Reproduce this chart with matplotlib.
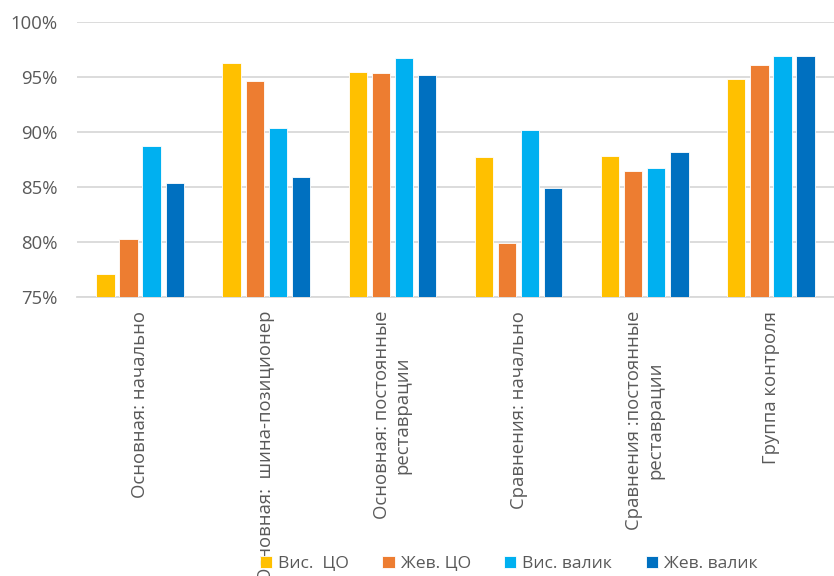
import numpy as np
import matplotlib.pyplot as plt
from matplotlib.ticker import PercentFormatter

# group labels (x axis)
groups = [
    'Основная: начально',
    'Основная:  шина-позиционер',
    'Основная: постоянные\nреставрации',
    'Сравнения: начально',
    'Сравнения :постоянные\nреставрации',
    'Группа контроля',
]
series_names = ['Вис.  ЦО', 'Жев. ЦО', 'Вис. валик', 'Жев. валик']

vis_co = [77.1, 96.3, 95.5, 87.7, 87.85, 94.8]
zhev_co = [80.3, 94.6, 95.4, 79.9, 86.45, 96.1]
vis_valik = [88.7, 90.4, 96.7, 90.2, 86.7, 96.9]
zhev_valik = [85.4, 85.9, 95.2, 84.9, 88.2, 96.9]

colors = ['#FFC000', '#ED7D31', '#00B0F0', '#0070C0']

plt.rcParams['font.family'] = ['Open Sans', 'DejaVu Sans']

fig = plt.figure(figsize=(8.34, 5.76), dpi=100)
ax = fig.add_axes([77 / 834, (576 - 297) / 576, 757 / 834, 275 / 576])

x = np.arange(len(groups))
step = 0.183
width = 0.145
for i, vals in enumerate([vis_co, zhev_co, vis_valik, zhev_valik]):
    ax.bar(x + (i - 1.5) * step, np.array(vals) - 75, width, bottom=75,
           color=colors[i], edgecolor='white', linewidth=0.6,
           label=series_names[i], zorder=3)

ax.set_ylim(75, 100)
ax.set_xlim(-0.5, len(groups) - 0.5)
ax.set_yticks(np.arange(75, 101, 5))
ax.yaxis.set_major_formatter(PercentFormatter(decimals=0))
ax.grid(axis='y', color='#d9d9d9', linewidth=1.3, zorder=0)
for s in ['top', 'right', 'left']:
    ax.spines[s].set_visible(False)
ax.spines['bottom'].set_color('#d9d9d9')
ax.spines['bottom'].set_linewidth(1.3)
ax.tick_params(length=0, colors='#595959', labelsize=13.3)
ax.tick_params(axis='y', pad=14)
ax.tick_params(axis='x', pad=10)

ax.set_xticks(x)
ax.set_xticklabels(groups, rotation=90, va='top', ha='center',
                   multialignment='center')

fig.legend(loc='lower left', bbox_to_anchor=(244 / 834, -0.02), ncol=4,
           frameon=False, fontsize=12.6, handlelength=0.7, handleheight=0.7,
           handletextpad=0.35, columnspacing=1.9, labelcolor='#595959')

fig.savefig('out.png', dpi=100)
